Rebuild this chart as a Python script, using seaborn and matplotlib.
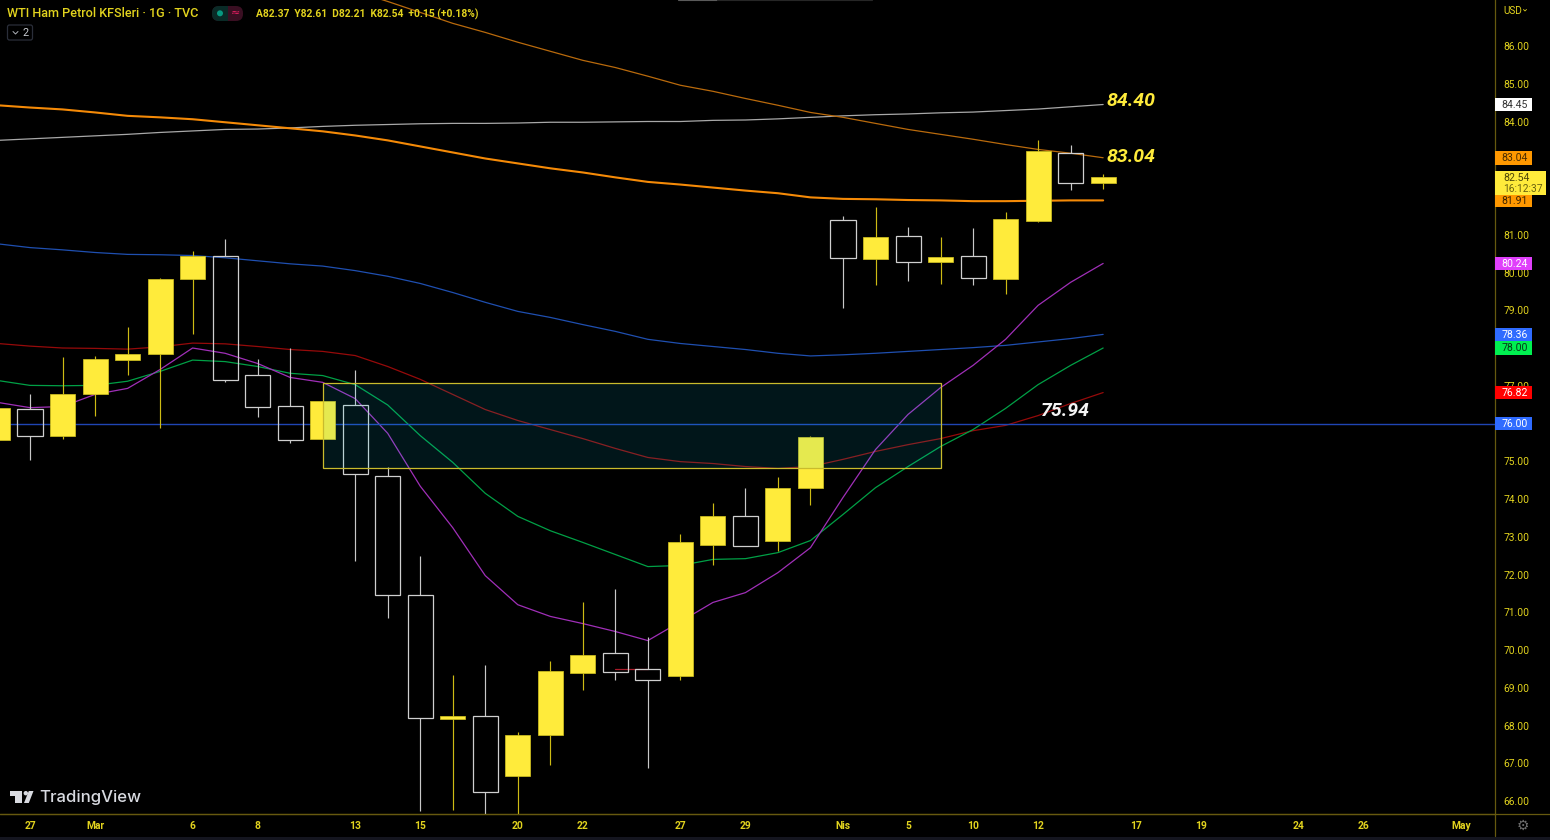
import matplotlib; matplotlib.use('Agg')
import numpy as np
import pandas as pd
import seaborn as sns
import matplotlib.pyplot as plt
from matplotlib.patches import Rectangle, Circle, FancyBboxPatch, Polygon

# candles, first one is cut by the left edge
bars = list(range(-1, 34))
opens = [75.55, 76.39, 75.68, 76.77, 77.69, 77.84, 79.82, 80.45, 77.29, 76.46, 75.59, 76.50, 74.62, 71.47, 68.16, 68.24, 66.65, 67.76,
         69.39, 69.91, 69.49, 69.30, 72.78, 73.55, 72.90, 74.30, 81.40, 80.36, 80.96, 80.28, 80.45, 79.83, 81.36, 83.17, 82.37]
highs = [76.42, 76.78, 77.77, 77.79, 78.55, 79.86, 80.58, 80.90, 77.70, 78.00, 76.60, 77.42, 74.85, 72.50, 69.34, 69.61, 67.84, 69.70,
         71.26, 71.62, 70.34, 73.06, 73.90, 74.30, 74.59, 75.66, 81.51, 81.74, 81.21, 80.93, 81.19, 81.61, 83.50, 83.39, 82.61]
lows = [75.55, 75.04, 75.60, 76.19, 77.28, 75.89, 78.38, 77.10, 76.17, 75.49, 75.59, 72.36, 70.84, 65.73, 65.77, 65.50, 65.60, 66.96,
        68.93, 69.20, 66.87, 69.20, 72.26, 72.75, 72.63, 73.83, 79.05, 79.66, 79.77, 79.69, 79.66, 79.42, 81.33, 82.18, 82.21]
closes = [76.42, 75.68, 76.78, 77.70, 77.85, 79.83, 80.45, 77.16, 76.43, 75.55, 76.60, 74.66, 71.45, 68.20, 68.24, 66.23, 67.75, 69.44,
          69.87, 69.42, 69.20, 72.85, 73.54, 72.75, 74.30, 75.64, 80.38, 80.95, 80.29, 80.42, 79.85, 81.42, 83.22, 82.38, 82.54]

# moving averages, same bars as the candles
ma_gray = [83.50, 83.54, 83.58, 83.62, 83.66, 83.71, 83.75, 83.79, 83.80, 83.83, 83.87, 83.90, 83.92, 83.94, 83.95, 83.95, 83.96, 83.98,
           83.98, 83.99, 84.00, 84.00, 84.03, 84.04, 84.07, 84.11, 84.15, 84.18, 84.20, 84.23, 84.25, 84.29, 84.33, 84.39, 84.45]
ma_orange = [84.43, 84.37, 84.32, 84.24, 84.15, 84.11, 84.06, 83.98, 83.90, 83.82, 83.74, 83.63, 83.50, 83.34, 83.18, 83.02, 82.89, 82.76,
             82.65, 82.52, 82.40, 82.33, 82.25, 82.17, 82.10, 81.99, 81.95, 81.94, 81.92, 81.91, 81.89, 81.89, 81.90, 81.91, 81.91]
ma_blue = [80.76, 80.66, 80.60, 80.53, 80.48, 80.47, 80.45, 80.39, 80.31, 80.23, 80.17, 80.05, 79.90, 79.71, 79.47, 79.21, 78.97, 78.81,
           78.62, 78.44, 78.23, 78.12, 78.04, 77.96, 77.86, 77.79, 77.82, 77.86, 77.91, 77.96, 78.01, 78.07, 78.16, 78.25, 78.36]
ma_red = [78.12, 78.05, 78.00, 77.99, 77.97, 78.03, 78.13, 78.11, 78.04, 77.96, 77.91, 77.80, 77.51, 77.17, 76.77, 76.37, 76.08, 75.84,
          75.60, 75.34, 75.10, 74.99, 74.94, 74.86, 74.81, 74.86, 75.05, 75.26, 75.44, 75.60, 75.81, 75.95, 76.21, 76.53, 76.82]
ma_green = [77.14, 77.01, 77.00, 77.01, 77.12, 77.38, 77.68, 77.64, 77.51, 77.33, 77.27, 77.03, 76.49, 75.68, 74.97, 74.15, 73.54, 73.16,
            72.85, 72.53, 72.21, 72.24, 72.40, 72.42, 72.58, 72.90, 73.59, 74.30, 74.86, 75.39, 75.84, 76.40, 77.03, 77.54, 78.00]
ma_purple = [76.56, 76.42, 76.45, 76.77, 76.93, 77.43, 78.00, 77.86, 77.59, 77.22, 77.09, 76.66, 75.74, 74.34, 73.24, 71.97, 71.20, 70.89,
             70.70, 70.49, 70.25, 70.75, 71.26, 71.52, 72.05, 72.71, 74.04, 75.31, 76.24, 76.95, 77.54, 78.23, 79.13, 79.74, 80.24]
# thin orange one only starts near the top edge
ma_thin_bars = list(range(10, 34))
ma_thin = [87.45, 87.18, 86.89, 86.60, 86.36, 86.10, 85.86, 85.62, 85.43, 85.20, 84.96, 84.80, 84.61, 84.43, 84.24, 84.11, 83.95, 83.79,
           83.66, 83.53, 83.39, 83.26, 83.16, 83.04]

level_price = 76.00
zone_bars = [9, 28]
zone_prices = [74.83, 77.06]

price_ticks = list(range(66, 87))
date_ticks = [0, 2, 5, 7, 10, 12, 15, 17, 20, 22, 25, 27, 29, 31, 34, 36, 39, 41, 44]
date_labels = ['27', 'Mar', '6', '8', '13', '15', '20', '22', '27', '29', 'Nis', '5', '10', '12', '17', '19', '24', '26', 'May']

tag_prices = [84.45, 83.04, 81.91, 80.24, 78.36, 78.00, 76.82, 76.00]
tag_fills = ['#ffffff', '#ff9800', '#ff9800', '#e040fb', '#2f6bff', '#00f050', '#ff0000', '#2f6bff']
tag_texts = ['#333333', '#4a2c00', '#3a2200', '#ffffff', '#ffffff', '#063a1a', '#ffffff', '#ffffff']

YELLOW = '#ffeb3b'
AXIS_TEXT = '#e2d31e'
AXIS_LINE = '#66590f'

sns.set_theme(style='dark', rc={'axes.facecolor': 'black', 'figure.facecolor': 'black', 'axes.grid': False})
plt.rcParams['font.family'] = ['Roboto', 'DejaVu Sans']

fig = plt.figure(figsize=(15.5, 8.4), dpi=100)
ax = fig.add_axes([0, 26 / 840, 1495 / 1550, 814 / 840])
ax.set_xlim(-0.9225, 45.05)
ax.set_ylim(65.656, 87.2185)

# moving averages sit below the candles
ma_df = pd.DataFrame({'bar': bars, 'gray': ma_gray, 'orange': ma_orange, 'blue': ma_blue,
                      'red': ma_red, 'green': ma_green, 'purple': ma_purple})
styles = {'gray': ('#a8a8a8', 0.9), 'orange': ('#f58a07', 1.5), 'blue': ('#1f4fb0', 0.9),
          'red': ('#960a0a', 0.9), 'green': ('#00a046', 0.9), 'purple': ('#a02fb8', 0.9)}
for name, (color, lw) in styles.items():
    sns.lineplot(data=ma_df, x='bar', y=name, color=color, linewidth=lw, ax=ax, zorder=2, estimator=None)
sns.lineplot(x=ma_thin_bars, y=ma_thin, color='#b96a0c', linewidth=0.9, ax=ax, zorder=2, estimator=None)
ax.plot([18, 19], [69.50, 69.50], color='#a81c2a', lw=0.9, zorder=2)
ax.axhline(level_price, color='#1f45b4', lw=1.0, zorder=2)

# candles
for b, o, h, l, c in zip(bars, opens, highs, lows, closes):
    top, bottom = max(o, c), min(o, c)
    up = c >= o
    wick = '#cdbb14' if up else '#c8c8c8'
    ax.vlines(b, top, h, color=wick, lw=0.85, zorder=3)
    ax.vlines(b, l, bottom, color=wick, lw=0.85, zorder=3)
    if up:
        ax.bar(b, top - bottom, bottom=bottom, width=0.77, color=YELLOW, edgecolor='#d8c820', linewidth=0.5, zorder=3)
    else:
        ax.bar(b, top - bottom, bottom=bottom, width=0.77, facecolor='none', edgecolor='#cfcfcf', linewidth=0.9, zorder=3)

# zone box
ax.add_patch(Rectangle((zone_bars[0], zone_prices[0]), zone_bars[1] - zone_bars[0], zone_prices[1] - zone_prices[0],
                       facecolor=(0.067, 0.85, 0.98, 0.105), edgecolor='#c9bb2c', linewidth=0.9, zorder=4))

# axes look
for side in ['top', 'left']:
    ax.spines[side].set_visible(False)
ax.spines['right'].set_color(AXIS_LINE)
ax.spines['bottom'].set_color(AXIS_LINE)
ax.spines['right'].set_linewidth(0.9)
ax.spines['bottom'].set_linewidth(0.9)
ax.set_xlabel('')
ax.set_ylabel('')
ax.yaxis.tick_right()
ax.set_yticks(price_ticks)
ax.set_yticklabels([f'{p:.2f}' for p in price_ticks])
ax.set_xticks(date_ticks)
ax.set_xticklabels(date_labels, fontweight='bold')
ax.tick_params(axis='y', length=0, pad=5.8, labelsize=7.4, labelcolor=AXIS_TEXT)
ax.tick_params(axis='x', length=0, pad=5.2, labelsize=7.4, labelcolor=AXIS_TEXT)

# price tags on the scale
scale = fig.add_axes([1495 / 1550, 26 / 840, 55 / 1550, 814 / 840], facecolor='none')
scale.set_xlim(0, 55)
scale.set_ylim(65.656, 87.2185)
scale.axis('off')
scale.barh(tag_prices, [37] * len(tag_prices), height=0.36, color=tag_fills, edgecolor='none', zorder=3)
for p, tc in zip(tag_prices, tag_texts):
    scale.text(20, p - 0.01, f'{p:.2f}', color=tc, fontsize=7.6, ha='center', va='center', zorder=4)
last_close = closes[-1]
scale.barh(last_close - 0.17, 50.5, height=0.66, color='#ffeb3b', edgecolor='none', zorder=5)
scale.text(8, last_close - 0.04, f'{last_close:.2f}', color='#4d4708', fontsize=7.6, va='center', zorder=6)
scale.text(8, last_close - 0.33, '16:12:37', color='#6a6210', fontsize=7.4, va='center', zorder=6)

# everything else in pixel coordinates
ui = fig.add_axes([0, 0, 1, 1], facecolor='none')
ui.set_xlim(0, 1550)
ui.set_ylim(840, 0)
ui.axis('off')

ui.text(7, 13.5, 'WTI Ham Petrol KFSleri · 1G · TVC', color=AXIS_TEXT, fontsize=9.1, va='center', fontweight='medium')
pill = FancyBboxPatch((212, 6), 31, 15, boxstyle='round,pad=0,rounding_size=7', facecolor='#3a0f22', edgecolor='none')
ui.add_patch(pill)
pill_left = Rectangle((212, 6), 16, 15, facecolor='#0a2b27', edgecolor='none')
ui.add_patch(pill_left)
pill_left.set_clip_path(pill)
ui.add_patch(Circle((220, 13.3), 3, facecolor='#089981', edgecolor='none'))
ui.text(235, 13, '≈', color='#e91e63', fontsize=8, ha='center', va='center', family=['DejaVu Sans'])
ui.text(256, 14, 'A82.37  Y82.61  D82.21  K82.54  +0.15 (+0.18%)', color=AXIS_TEXT, fontsize=7.35, va='center', fontweight='bold')
ui.add_patch(FancyBboxPatch((7.5, 25), 25, 15, boxstyle='round,pad=0,rounding_size=2', facecolor='none', edgecolor='#2a2e39', lw=0.9))
ui.plot([13, 15.5, 18], [31.5, 34, 31.5], color='#b0b3bb', lw=0.7)
ui.text(25.5, 32.5, '2', color='#c8cad0', fontsize=7.8, ha='center', va='center')
ui.text(1503, 10.5, 'USD', color=AXIS_TEXT, fontsize=7.2, va='center')
ui.plot([1523.5, 1525, 1526.5], [9.5, 11, 9.5], color=AXIS_TEXT, lw=0.6)

# level notes
ui.text(1107, 101.5, '84.40', color=YELLOW, fontsize=14, style='italic', fontweight='bold', va='center')
ui.text(1107, 157.5, '83.04', color=YELLOW, fontsize=14, style='italic', fontweight='bold', va='center')
ui.text(1041, 410.5, '75.94', color='#f4f4f4', fontsize=14, style='italic', fontweight='bold', va='center')

# logo
logo = '#d8dae0'
ui.add_patch(Polygon([(9.5, 791), (22, 791), (22, 803), (15, 803), (15, 796), (9.5, 796)], facecolor=logo, edgecolor='none'))
ui.add_patch(Circle((25.8, 793.2), 2.2, facecolor=logo, edgecolor='none'))
ui.add_patch(Polygon([(28.8, 791), (33.5, 791), (28.8, 803), (24, 803)], facecolor=logo, edgecolor='none'))
ui.text(39, 797.5, 'TradingView', color=logo, fontsize=12.1, va='center', fontweight='medium', family=['Inter', 'DejaVu Sans'])

# bottom strip and gear
ui.plot([0, 1550], [814, 814], color=AXIS_LINE, lw=0.9)
ui.plot([1495, 1495], [814, 836], color=AXIS_LINE, lw=0.9)
ui.add_patch(Rectangle((0, 836.5), 1550, 3.5, facecolor='#14151f', edgecolor='none'))
ui.text(1523, 825.5, '⚙', color='#6e6e6e', fontsize=10, ha='center', va='center', family=['DejaVu Sans'])
ui.plot([678, 717], [0.4, 0.4], color='#5a5a5a', lw=0.8)
ui.plot([717, 872], [0.4, 0.4], color='#262626', lw=0.8)

fig.savefig('out.png', dpi=100, facecolor='black')
